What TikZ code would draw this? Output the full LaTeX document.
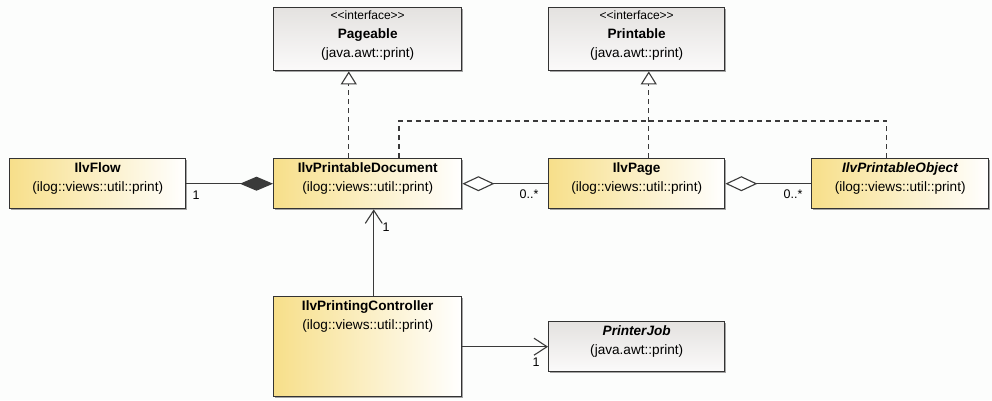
\documentclass[tikz,border=0pt]{standalone}
\usepackage{fontspec}
\setmainfont{Liberation Sans}
\usetikzlibrary{arrows.meta,calc,shadows}

\definecolor{bgc}{HTML}{FCFDFC}
\definecolor{edge}{HTML}{333333}
\definecolor{wire}{HTML}{3A3A3A}
\definecolor{gold}{HTML}{F7DF8A}
\definecolor{greytop}{HTML}{E4E2E0}
\definecolor{greybot}{HTML}{FBFAFA}

\tikzset{
  boxbase/.style={draw=edge, line width=1.4pt, inner sep=0pt,
    drop shadow={shadow xshift=1.2pt, shadow yshift=-1.2pt, opacity=0.35, fill=black}},
  ilvbox/.style={boxbase, left color=gold, right color=white},
  awtbox/.style={boxbase, top color=greytop, bottom color=greybot},
  classtext/.style={align=center, inner sep=0pt, font=\fontsize{13.6}{19}\selectfont},
  stereo/.style={font=\fontsize{12}{19}\selectfont},
  mult/.style={inner sep=0pt, font=\fontsize{12.5}{14}\selectfont},
  wirestyle/.style={draw=wire, line width=1.1pt},
  realize/.style={wirestyle, dash pattern=on 5pt off 4pt},
  realtip/.style={-{Triangle[open, width=16pt, length=13pt, fill=white, line width=1.1pt]}},
  compo/.style={{Diamond[width=14pt, length=33pt, line width=1pt]}-},
  aggr/.style={{Diamond[open, width=15pt, length=32pt, fill=white, line width=1.1pt]}-},
  navi/.style={-{Straight Barb[width=17pt, length=13pt, line width=1.1pt]}}
}

% #1 node name, #2 style, #3 left, #4 top, #5 width, #6 height, #7 label text
\newcommand\umlclass[7]{%
  \node[#2, minimum width=#5pt, minimum height=#6pt, anchor=north west] (#1) at (#3,#4) {};
  \node[classtext, anchor=north] (#1-t) at ($(#1.north)+(0,4)$) {#7};
}

\begin{document}
\begin{tikzpicture}[x=1pt, y=-1pt]
  \fill[bgc] (0,0) rectangle (992,400);
  \useasboundingbox (0,0) rectangle (992,400);

  \umlclass{pageable}{awtbox}{273}{7}{188}{63}
    {{\fontsize{12}{19}\selectfont<{}<interface>{}>}\\\textbf{Pageable}\\(java.awt::print)}
  \umlclass{printable}{awtbox}{548}{7}{176}{63}
    {{\fontsize{12}{19}\selectfont<{}<interface>{}>}\\\textbf{Printable}\\(java.awt::print)}
  \umlclass{flow}{ilvbox}{9}{158}{176}{50}
    {\textbf{IlvFlow}\\(ilog::views::util::print)}
  \umlclass{doc}{ilvbox}{273}{158}{188}{50}
    {\textbf{IlvPrintableDocument}\\(ilog::views::util::print)}
  \umlclass{page}{ilvbox}{548}{158}{176}{50}
    {\textbf{IlvPage}\\(ilog::views::util::print)}
  \umlclass{pobj}{ilvbox}{811}{158}{177}{50}
    {\textbf{\textit{IlvPrintableObject}}\\(ilog::views::util::print)}
  \umlclass{ctrl}{ilvbox}{273}{296}{188}{100}
    {\textbf{IlvPrintingController}\\(ilog::views::util::print)}
  \umlclass{job}{awtbox}{548}{321}{176}{50}
    {\textbf{\textit{PrinterJob}}\\(java.awt::print)}

  % realization of Pageable
  \draw[realize, realtip] ($(doc.north west)!.40!(doc.north east)$)
    -- ($(pageable.south west)!.40!(pageable.south east)$);

  % realization of Printable, shared by three classes
  \coordinate (jn) at ($(page.north west)!.568!(page.north east)+(0,-37)$);
  \draw[realize, realtip] (page.north -| jn) -- (printable.south -| jn);
  \draw[realize] ($(doc.north west)!.665!(doc.north east)$) |- (jn);
  \draw[realize] ($(pobj.north west)!.424!(pobj.north east)$) |- (jn);

  % composition and aggregations
  \draw[wirestyle, compo] (doc.west) -- (flow.east);
  \node[mult] (m-flow) at (196,195) {1};
  \draw[wirestyle, aggr] (doc.east) -- (page.west);
  \node[mult] (m-page) at (529,194) {0..*};
  \draw[wirestyle, aggr] (page.east) -- (pobj.west);
  \node[mult] (m-pobj) at (793,194) {0..*};

  % navigable associations of the controller
  \draw[wirestyle, navi] ($(ctrl.north west)!.532!(ctrl.north east)$)
    -- ($(doc.south west)!.532!(doc.south east)$);
  \node[mult] (m-doc) at (386,227) {1};
  \draw[wirestyle, navi] (ctrl.east |- job.west) -- (job.west);
  \node[mult] (m-job) at (536,362) {1};
\end{tikzpicture}
\end{document}
